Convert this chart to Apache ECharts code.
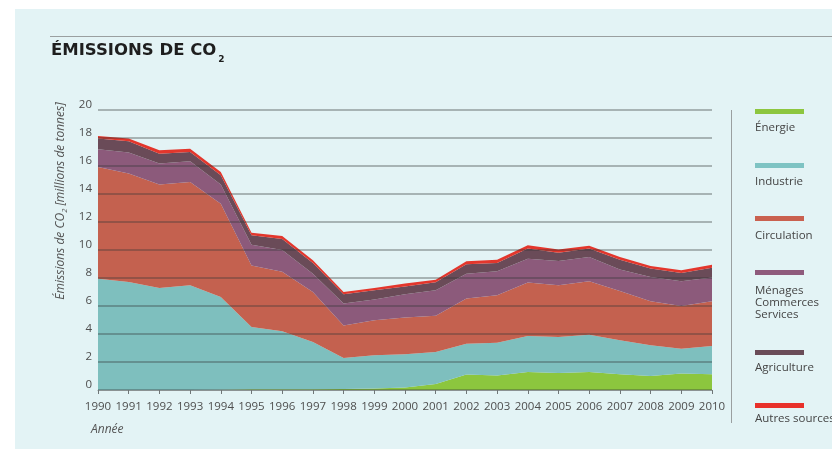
<!DOCTYPE html>
<html>
<head>
<meta charset="utf-8">
<script src="https://cdn.jsdelivr.net/npm/echarts@6/dist/echarts.min.js"></script>
<style>
html,body{margin:0;padding:0;background:#ffffff;}
#chart{width:832px;height:449px;}
</style>
</head>
<body>
<div id="chart"></div>
<script>
const years = ['1990','1991','1992','1993','1994','1995','1996','1997','1998','1999','2000','2001','2002','2003','2004','2005','2006','2007','2008','2009','2010'];
const seriesNames = ['Énergie','Industrie','Circulation','Ménages\nCommerces\nServices','Agriculture','Autres sources'];
const energie     = [0, 0, 0, 0, 0.02, 0.05, 0.05, 0.05, 0.08, 0.1, 0.17, 0.42, 1.1, 1.03, 1.29, 1.21, 1.29, 1.12, 1.0, 1.17, 1.12];
const industrie   = [7.95, 7.72, 7.29, 7.48, 6.62, 4.45, 4.15, 3.38, 2.21, 2.38, 2.38, 2.29, 2.21, 2.35, 2.57, 2.58, 2.66, 2.43, 2.19, 1.78, 2.02];
const circulation = [7.98, 7.74, 7.38, 7.38, 6.67, 4.4, 4.25, 3.57, 2.31, 2.5, 2.62, 2.6, 3.22, 3.38, 3.81, 3.69, 3.81, 3.52, 3.15, 3.05, 3.2];
const menages     = [1.26, 1.5, 1.5, 1.48, 1.36, 1.48, 1.55, 1.31, 1.57, 1.48, 1.67, 1.81, 1.78, 1.72, 1.71, 1.73, 1.74, 1.53, 1.73, 1.76, 1.69];
const agriculture = [0.77, 0.8, 0.71, 0.66, 0.67, 0.67, 0.78, 0.76, 0.67, 0.66, 0.56, 0.57, 0.67, 0.59, 0.72, 0.6, 0.6, 0.71, 0.6, 0.6, 0.71];
const autres      = [0.18, 0.2, 0.24, 0.24, 0.23, 0.19, 0.22, 0.19, 0.16, 0.17, 0.2, 0.19, 0.21, 0.24, 0.24, 0.22, 0.21, 0.19, 0.19, 0.19, 0.21];
const yTicks = { min: 0, max: 20, interval: 2 };

const colors = ['#8cc63e', '#7ebfbe', '#c4614f', '#8c5a7b', '#6a4b58', '#e3362c'];
const legendColors = ['#8dc63f', '#7ec3c3', '#c9604f', '#8e5a7c', '#6a4c58', '#e8302a'];
const allData = [energie, industrie, circulation, menages, agriculture, autres];

const chart = echarts.init(document.getElementById('chart'), null, { renderer: 'canvas' });

const FONT = '"Open Sans", "DejaVu Sans", sans-serif';
const TFONT = '"DejaVu Sans", sans-serif';
const ctx = document.createElement('canvas').getContext('2d');
ctx.font = 'bold 16.5px "DejaVu Sans"';
const titleMain = 'ÉMISSIONS DE CO';
const titleW = ctx.measureText(titleMain).width;

const graphics = [
  { type: 'rect', z: -10, silent: true, shape: { x: 15, y: 9, width: 817, height: 440 }, style: { fill: '#e3f3f5' } },
  { type: 'line', z: 1, silent: true, shape: { x1: 50, y1: 36.5, x2: 832, y2: 36.5 }, style: { stroke: '#9a9fa0', lineWidth: 1 } },
  { type: 'text', z: 5, left: 51, top: 42, style: { text: titleMain, font: 'bold 16.5px ' + TFONT, fill: '#1e1e1e' } },
  { type: 'text', z: 5, left: 51 + titleW + 2, top: 55, style: { text: '2', font: 'bold 9px ' + TFONT, fill: '#1e1e1e' } },
  { type: 'text', z: 5, left: 91, top: 424, style: { text: 'Année', font: 'italic 12px ' + FONT, fill: '#555555' } },
  {
    type: 'text', z: 5, x: 61, y: 201, rotation: Math.PI / 2,
    style: {
      text: '{a|Émissions de CO}{s|2}{a| [millions de tonnes]}',
      align: 'center', verticalAlign: 'middle',
      rich: {
        a: { font: 'italic 12px ' + FONT, fill: '#555555', lineHeight: 15 },
        s: { font: 'italic 7.5px ' + FONT, fill: '#555555', lineHeight: 8, verticalAlign: 'bottom' }
      }
    }
  },
  { type: 'line', z: 1, silent: true, shape: { x1: 731.5, y1: 110, x2: 731.5, y2: 423 }, style: { stroke: '#9a9fa0', lineWidth: 1 } }
];

const barTops = [109, 163, 216, 270, 350, 403];
const labelTops = [122, 176, 230, 285, 362, 413];
seriesNames.forEach(function (name, i) {
  graphics.push({ type: 'rect', z: 5, silent: true, shape: { x: 755, y: barTops[i], width: 49, height: 5 }, style: { fill: legendColors[i] } });
  graphics.push({ type: 'text', z: 5, left: 755, top: labelTops[i], style: { text: name, font: '11.5px ' + FONT, fill: '#444444', lineHeight: 12 } });
});

const series = seriesNames.map(function (name, i) {
  return {
    name: name.replace(/\n/g, ' '),
    type: 'line',
    stack: 'total',
    data: allData[i],
    symbol: 'none',
    smooth: false,
    lineStyle: { width: 0 },
    areaStyle: { color: colors[i], opacity: 1 },
    itemStyle: { color: colors[i] },
    z: 2
  };
});

chart.setOption({
  animation: false,
  backgroundColor: 'transparent',
  textStyle: { fontFamily: FONT },
  grid: { left: 98, right: 120, top: 110, bottom: 59, containLabel: false },
  xAxis: {
    type: 'category',
    data: years,
    boundaryGap: false,
    z: 10,
    axisLine: { show: true, lineStyle: { color: '#8b9293', width: 1 } },
    axisTick: { show: true, length: 4, interval: 0, lineStyle: { color: '#6f7677' }, alignWithLabel: true },
    axisLabel: { color: '#4e4e4e', fontSize: 11.5, margin: 11, interval: 0, hideOverlap: false, fontFamily: FONT },
    splitLine: { show: false }
  },
  yAxis: {
    type: 'value',
    min: yTicks.min, max: yTicks.max, interval: yTicks.interval,
    z: 10,
    axisLine: { show: false },
    axisTick: { show: false },
    axisLabel: { color: '#4e4e4e', fontSize: 11.5, margin: 6, fontFamily: FONT, verticalAlign: 'bottom', lineHeight: 10 },
    splitLine: { show: true, lineStyle: { color: 'rgba(50,55,56,0.45)', width: 1.5 } }
  },
  graphic: graphics,
  series: series
});
</script>
</body>
</html>
